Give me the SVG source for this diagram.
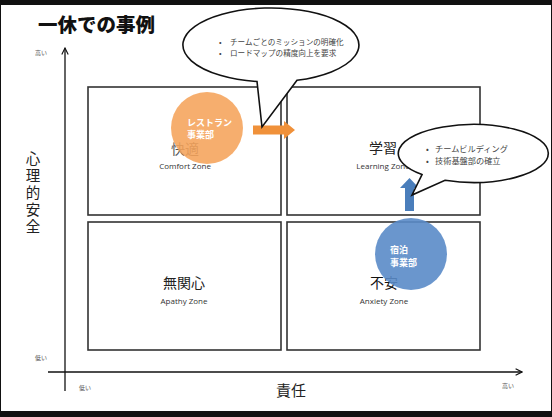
<svg xmlns="http://www.w3.org/2000/svg" width="552" height="417" viewBox="0 0 552 417">
<style>
.jp{font-family:"Noto Sans CJK JP","Noto Sans",sans-serif}
.en{font-family:"Open Sans","Liberation Sans",sans-serif}
.box{fill:#fff;stroke:#333;stroke-width:1.6}
.axis{stroke:#111;stroke-width:1.3;fill:none}
.small{font-size:6px;fill:#555}
.zone{font-size:14px;text-anchor:middle}
.zen{font-size:8px;fill:#333;text-anchor:middle}
.callout{fill:#fff;stroke:#111;stroke-width:1.6}
.ctext{font-size:7.6px;fill:#444}
.ctext2{font-size:8.2px;fill:#444}
.ctr{fill:#fff;font-weight:bold;font-size:9px}
</style>
<defs>
<marker id="arr" viewBox="0 0 10 10" refX="9" refY="5" markerWidth="8" markerHeight="8" orient="auto" markerUnits="userSpaceOnUse">
<path d="M1,1 L9,5 L1,9" fill="none" stroke="#111" stroke-width="1.4"/>
</marker>
</defs>
<rect x="0" y="0" width="552" height="417" fill="#111"/>
<rect x="1" y="5" width="550" height="406" fill="#fff"/>
<text class="jp" x="38" y="32" font-size="19.5" font-weight="900" fill="#111">一休での事例</text>

<g id="axes">
<line class="axis" x1="65" y1="391" x2="65" y2="48" marker-end="url(#arr)"/>
<line class="axis" x1="48" y1="372" x2="522" y2="372" marker-end="url(#arr)"/>
<text class="jp small" x="35" y="55">高い</text>
<text class="jp small" x="35" y="360">低い</text>
<text class="jp small" x="79" y="390">低い</text>
<text class="jp small" x="502" y="388">高い</text>
<text class="jp" x="33" y="151" font-size="14.5" fill="#222" writing-mode="vertical-rl" letter-spacing="2.5">心理的安全</text>
<text class="jp" x="291" y="396" font-size="15" fill="#222" text-anchor="middle">責任</text>
</g>

<g id="comfort">
<rect class="box" x="88" y="87" width="193" height="128"/>
<text class="jp zone" x="185" y="154" fill="#555">快適</text>
<text class="en zen" x="185" y="169">Comfort Zone</text>
</g>
<g id="learning">
<rect class="box" x="287" y="87" width="193" height="128"/>
<text class="jp zone" x="383" y="153" fill="#222">学習</text>
<text class="en zen" x="383" y="169">Learning Zone</text>
</g>
<g id="apathy">
<rect class="box" x="88" y="222" width="193" height="128"/>
<text class="jp zone" x="184" y="288" fill="#222">無関心</text>
<text class="en zen" x="184" y="304">Apathy Zone</text>
</g>
<g id="anxiety">
<rect class="box" x="287" y="222" width="193" height="128"/>
<text class="jp zone" x="384" y="288" fill="#111">不安</text>
<text class="en zen" x="384" y="304">Anxiety Zone</text>
</g>

<g id="restaurant">
<circle cx="207" cy="128" r="36" fill="#F5A35A" fill-opacity="0.88"/>
<text class="jp ctr" x="187" y="126">レストラン</text>
<text class="jp ctr" x="187" y="138">事業部</text>
</g>
<g id="hotel">
<circle cx="411" cy="254" r="36" fill="#5A8BC8" fill-opacity="0.9"/>
<text class="jp ctr" x="390" y="253" font-size="10.5">宿泊</text>
<text class="jp ctr" x="390" y="266" font-size="10.5">事業部</text>
</g>

<g id="connectors">
<path d="M253,125.5 H284 V121 L295,130 L284,139 V134.5 H253 Z" fill="#F0913A"/>
<path d="M405,211 V188 H400 L409.5,178 L419,188 H414 V211 Z" fill="#4A7EBB"/>
</g>

<g id="callout1">
<path class="callout" d="M257,81.5 A88 37 0 1 1 297,80.3 L262,127 Z"/>
<text class="jp ctext" x="219" y="45">•</text>
<text class="jp ctext" x="230" y="45">チームごとのミッションの明確化</text>
<text class="jp ctext" x="219" y="56">•</text>
<text class="jp ctext" x="230" y="56">ロードマップの精度向上を要求</text>
</g>
<g id="callout2">
<path class="callout" d="M422,174.6 A75 29 0 1 1 445,180.3 L412,195 Z"/>
<text class="jp ctext2" x="426" y="152">•</text>
<text class="jp ctext2" x="435" y="152">チームビルディング</text>
<text class="jp ctext2" x="426" y="164">•</text>
<text class="jp ctext2" x="435" y="164">技術基盤部の確立</text>
</g>
</svg>
